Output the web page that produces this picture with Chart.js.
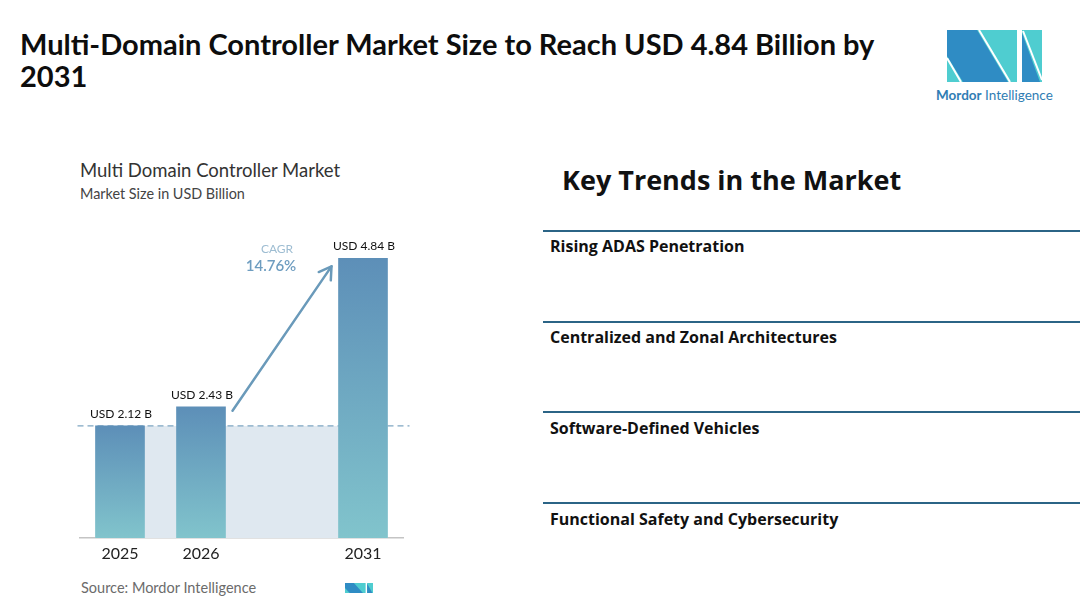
<!DOCTYPE html>
<html>
<head>
<meta charset="utf-8">
<script src="https://cdn.jsdelivr.net/npm/chart.js@4.4.1/dist/chart.umd.min.js"></script>
<style>
  body { margin: 0; background: #fff; font-family: Lato, sans-serif; }
  #page { position: relative; width: 1080px; height: 605px; overflow: hidden; background: #fff; }
  .txt { position: absolute; white-space: nowrap; line-height: 1; }
  #title { position: absolute; left: 20px; top: 28px; width: 880px; font: 700 29px/32px Lato, sans-serif; color: #0d0d0d; }
  .trend-line { position: absolute; left: 543px; width: 537px; height: 2px; background: #2b6486; }
  .trend { position: absolute; left: 550px; font: 700 16px/1 "Open Sans", sans-serif; color: #111; white-space: nowrap; }
  #chartBox { position: absolute; left: 60px; top: 225px; }
</style>
</head>
<body>
<div id="page">
  <div id="title">Multi-Domain Controller Market Size to Reach USD 4.84 Billion by 2031</div>

  <svg style="position:absolute;left:947px;top:30px" width="95" height="52" viewBox="0 0 95 52">
    <polygon points="0,0 70,0 70,52 0,52" fill="#4fcdd0"/>
    <polygon points="0,0 30,0 61,52 16,52 0,26" fill="#2f8cc4"/>
    <line x1="0" y1="28" x2="14" y2="52" stroke="#fff" stroke-width="2"/>
    <line x1="32" y1="0" x2="63" y2="52" stroke="#fff" stroke-width="2"/>
    <polygon points="75,0 95,0 95,52 75,52" fill="#4fcdd0"/>
    <polygon points="75,3 75,52 93,52" fill="#2f8cc4"/>
    <line x1="76" y1="1" x2="95" y2="50" stroke="#fff" stroke-width="2"/>
  </svg>
  <div class="txt" style="left:936px;top:89px;font-size:13.5px;color:#2f7db4"><b>Mordor</b> Intelligence</div>

  <div class="txt" style="left:80px;top:161px;font-size:18.5px;color:#333">Multi Domain Controller Market</div>
  <div class="txt" style="left:80px;top:187px;font-size:14.4px;color:#444">Market Size in USD Billion</div>

  <div id="chartBox"><canvas id="chart" width="360" height="345"></canvas></div>

  <div class="txt" style="left:81px;top:581px;font-size:14.5px;color:#6b6b6b">Source: Mordor Intelligence</div>
  <svg style="position:absolute;left:345px;top:583px" width="28" height="10" viewBox="0 0 95 52" preserveAspectRatio="none">
    <polygon points="0,0 70,0 70,52 0,52" fill="#4fcdd0"/>
    <polygon points="0,0 30,0 61,52 16,52 0,26" fill="#2f8cc4"/>
    <polygon points="75,0 95,0 95,52 75,52" fill="#4fcdd0"/>
    <polygon points="75,3 75,52 93,52" fill="#2f8cc4"/>
  </svg>

  <div class="txt" style="left:562px;top:166px;font:700 27px/1 'Open Sans',sans-serif;color:#111">Key Trends in the Market</div>
  <div class="trend-line" style="top:230px"></div>
  <div class="trend" style="top:238px">Rising ADAS Penetration</div>
  <div class="trend-line" style="top:321px"></div>
  <div class="trend" style="top:329px">Centralized and Zonal Architectures</div>
  <div class="trend-line" style="top:411px"></div>
  <div class="trend" style="top:420px">Software-Defined Vehicles</div>
  <div class="trend-line" style="top:502px"></div>
  <div class="trend" style="top:511px">Functional Safety and Cybersecurity</div>
</div>

<script>
// chart data
var years = ['2025', '2026', '', '2031'];
var marketSize = [2.12, 2.43, null, 4.84];
var cagrLabel = 'CAGR';
var cagrValue = '14.76%';

function barFill(context) {
    var chart = context.chart;
    var area = chart.chartArea;
    if (!area || context.raw == null) {
        return '#6a9fc0';
    }
    var top = chart.scales.y.getPixelForValue(context.raw);
    var g = chart.ctx.createLinearGradient(0, top, 0, area.bottom);
    g.addColorStop(0, '#5d8fb8');
    g.addColorStop(1, '#81c4cc');
    return g;
}

var decorations = {
    id: 'decorations',
    beforeDatasetsDraw: function(chart) {
        var ctx = chart.ctx;
        var area = chart.chartArea;
        var meta = chart.getDatasetMeta(0);
        var first = meta.data[0];
        var last = meta.data[3];
        var yRef = chart.scales.y.getPixelForValue(marketSize[0]);
        var left = first.x - first.width / 2;
        var right = last.x + last.width / 2;

        ctx.save();
        ctx.fillStyle = '#dfe8f0';
        ctx.fillRect(left, yRef, right - left, area.bottom - yRef);

        ctx.setLineDash([6, 4]);
        ctx.strokeStyle = '#7fa6c2';
        ctx.lineWidth = 1.2;
        ctx.beginPath();
        ctx.moveTo(area.left - 2, yRef);
        ctx.lineTo(area.right + 6, yRef);
        ctx.stroke();
        ctx.restore();
    },
    afterDatasetsDraw: function(chart) {
        var ctx = chart.ctx;
        var meta = chart.getDatasetMeta(0);

        // value labels
        ctx.save();
        ctx.fillStyle = '#111';
        ctx.font = '12px Lato';
        ctx.textAlign = 'center';
        ctx.textBaseline = 'bottom';
        marketSize.forEach(function(v, i) {
            if (v == null) return;
            var bar = meta.data[i];
            ctx.fillText('USD ' + v.toFixed(2) + ' B', bar.x + 1, bar.y - 6);
        });

        // growth arrow
        var b = meta.data[1];
        var c = meta.data[3];
        var x1 = b.x + b.width / 2 + 7, y1 = b.y + 4;
        var x2 = c.x - c.width / 2 - 7, y2 = c.y + 8;
        var ang = Math.atan2(y2 - y1, x2 - x1);
        ctx.strokeStyle = '#6a9aba';
        ctx.lineWidth = 2.5;
        ctx.lineCap = 'round';
        ctx.lineJoin = 'round';
        ctx.beginPath();
        ctx.moveTo(x1, y1);
        ctx.lineTo(x2, y2);
        ctx.stroke();
        ctx.beginPath();
        ctx.moveTo(x2 - 14 * Math.cos(ang - 0.55), y2 - 14 * Math.sin(ang - 0.55));
        ctx.lineTo(x2, y2);
        ctx.lineTo(x2 - 14 * Math.cos(ang + 0.55), y2 - 14 * Math.sin(ang + 0.55));
        ctx.stroke();

        // CAGR text
        var mid = (b.x + c.x) / 2;
        ctx.textBaseline = 'middle';
        ctx.fillStyle = '#9ebdd2';
        ctx.font = '12px Lato';
        ctx.fillText(cagrLabel, mid - 5, c.y - 9);
        ctx.fillStyle = '#6e9dc0';
        ctx.font = '600 15px Lato';
        ctx.fillText(cagrValue, mid - 11, c.y + 8);
        ctx.restore();
    }
};

var chart = new Chart(document.getElementById('chart').getContext('2d'), {
    type: 'bar',
    data: {
        labels: years,
        datasets: [{
            data: marketSize,
            backgroundColor: barFill,
            barThickness: 49
        }]
    },
    options: {
        responsive: false,
        animation: false,
        layout: { padding: { left: 19.5, right: 16.5, top: 5, bottom: 0 } },
        plugins: {
            legend: { display: false },
            tooltip: { enabled: false }
        },
        scales: {
            y: {
                display: false,
                min: 0.3,
                max: 5.3
            },
            x: {
                grid: { display: false, drawTicks: false },
                border: { display: true, color: '#c4c4c4', width: 1.5 },
                ticks: {
                    color: '#222',
                    padding: 6,
                    font: { family: 'Lato', size: 16 }
                },
                afterFit: function(scale) { scale.height = 32; }
            }
        }
    },
    plugins: [decorations]
});
</script>
</body>
</html>
